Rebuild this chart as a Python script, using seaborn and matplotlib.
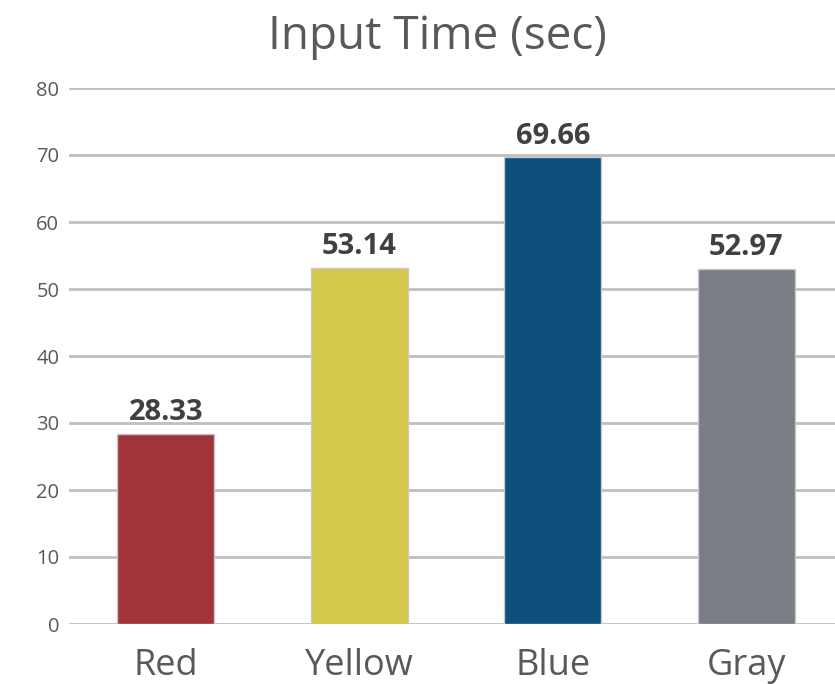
import matplotlib
matplotlib.use("Agg")
import matplotlib.pyplot as plt
import seaborn as sns
import pandas as pd

categories = ["Red", "Yellow", "Blue", "Gray"]
input_times = [28.33, 53.14, 69.66, 52.97]
bar_colors = ["#A1333B", "#D4C94A", "#0E4F7B", "#797D84"]
y_ticks = [0, 10, 20, 30, 40, 50, 60, 70, 80]

sns.set_theme(style="white")
plt.rcParams["font.family"] = ["Open Sans", "DejaVu Sans"]

df = pd.DataFrame({"category": categories, "seconds": input_times})

fig = plt.figure(figsize=(8.35, 6.84), dpi=100)
ax = fig.add_axes([69 / 835, 60 / 684, (843 - 69) / 835, 536 / 684])

sns.barplot(data=df, x="category", y="seconds", hue="category",
            palette=bar_colors, saturation=1, width=0.5, legend=False, ax=ax,
            edgecolor="#C8C8C8", linewidth=1, zorder=3)

ax.set_xlim(-0.5, 3.5)
ax.set_ylim(0, 80)
ax.set_yticks(y_ticks)
ax.yaxis.grid(True, color="#BFBFBF", linewidth=2)
ax.set_axisbelow(True)
for s in ax.spines.values():
    s.set_visible(False)

ax.tick_params(axis="y", labelsize=14.5, labelcolor="#595959", length=0, pad=7)
ax.tick_params(axis="x", labelsize=26, labelcolor="#595959", length=0, pad=17)
ax.set_xlabel("")
ax.set_ylabel("")

for i, v in enumerate(input_times):
    ax.text(i, v + 1.0, f"{v:.2f}", ha="center", va="bottom",
            fontsize=21, fontweight="bold", color="#404040")

fig.text(437 / 835, 1 - 37 / 684, "Input Time (sec)", ha="center", va="center",
         fontsize=33, color="#595959")

fig.savefig("out.png", dpi=100)
